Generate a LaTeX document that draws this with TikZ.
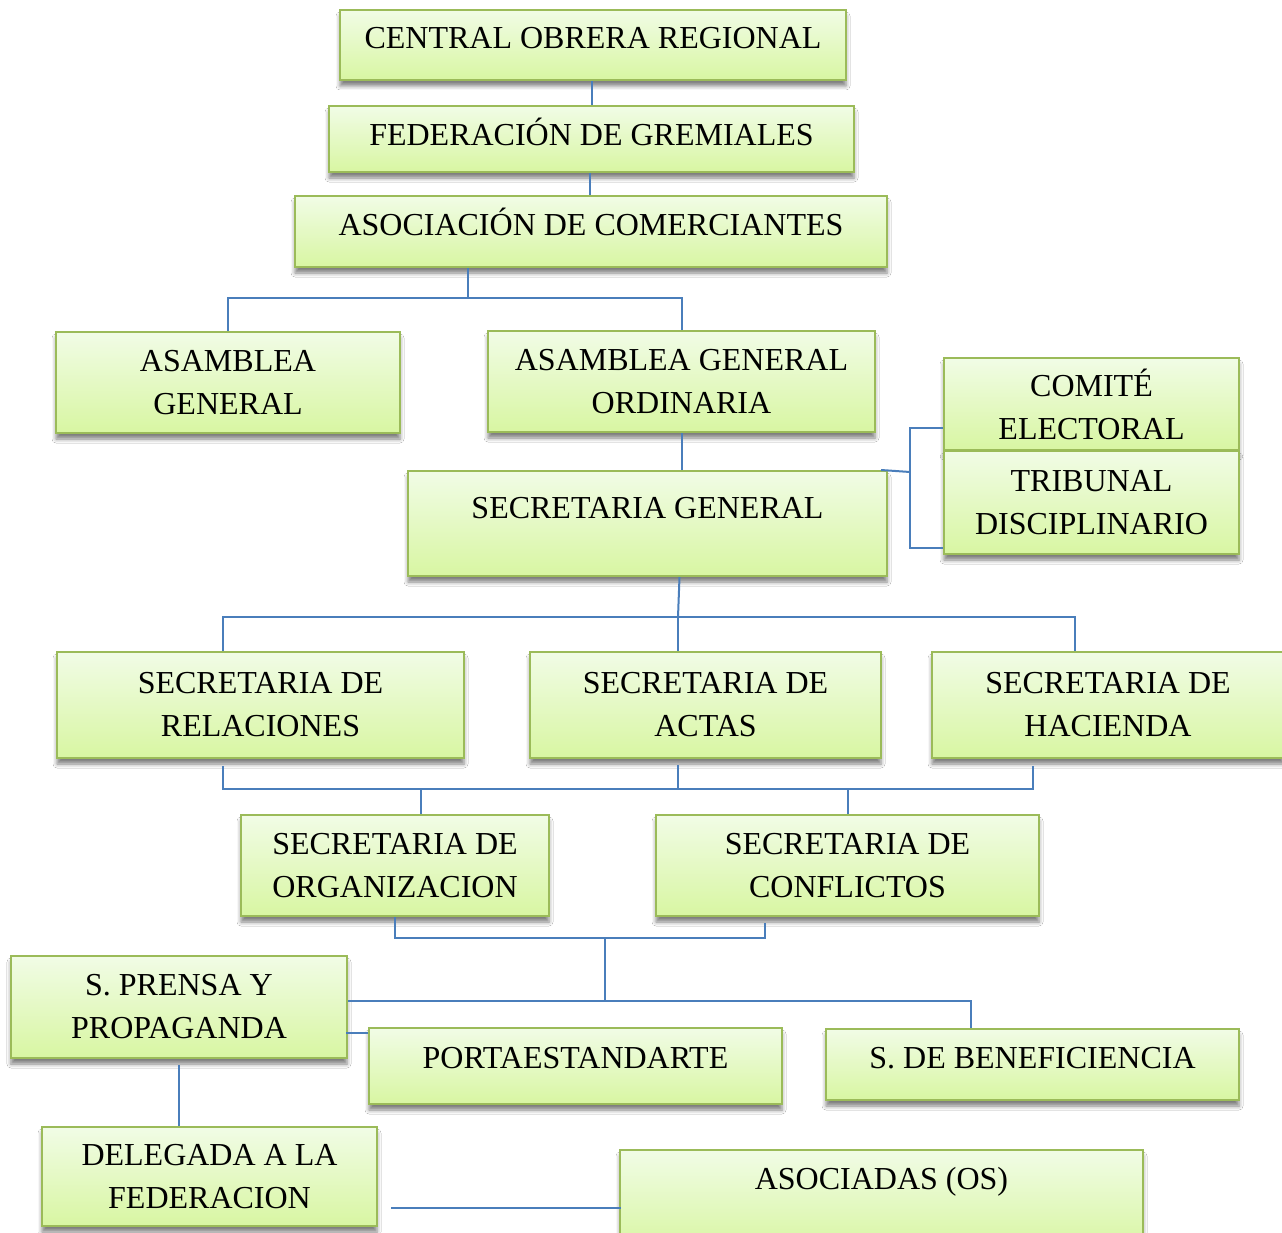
\documentclass[tikz,border=0pt]{standalone}
\usepackage{fontspec}
\setmainfont{Liberation Serif}
\usepackage{xcolor}
\usepackage{tikz}
\usetikzlibrary{positioning,shadows.blur}
\definecolor{boxline}{HTML}{9BBB59}
\definecolor{boxtop}{HTML}{F1FCE6}
\definecolor{boxbot}{HTML}{D8F6A2}
\definecolor{linkblue}{HTML}{4A7EBB}
\tikzset{
  orgbox/.style={draw=boxline, line width=2pt, top color=boxtop, bottom color=boxbot, align=center, inner sep=2pt,
    font=\fontsize{32}{43}\selectfont,
    blur shadow={shadow xshift=0pt, shadow yshift=-6pt, shadow blur radius=4pt, shadow opacity=50}},
  lift/.style={text height=22pt, text depth=#1},
  link/.style={draw=linkblue, line width=2pt}
}

\begin{document}
\begin{tikzpicture}[x=1pt, y=-1pt]
\useasboundingbox[fill=white] (0,0) rectangle (1282,1233);
% top of the chart
\node[orgbox, minimum width=506, minimum height=70, lift=15pt] (cor) at (593,45) {CENTRAL OBRERA REGIONAL};
\node[orgbox, minimum width=525, minimum height=66, lift=9pt] (fed) at (591.5,139) {FEDERACIÓN DE GREMIALES};
\node[orgbox, minimum width=592, minimum height=71, lift=14pt] (aso) at (591,231.5) {ASOCIACIÓN DE COMERCIANTES};
\node[orgbox, minimum width=344, minimum height=101] (ag) at (228,382.5) {ASAMBLEA\\GENERAL};
\node[orgbox, minimum width=387, minimum height=101] (ago) at (681.5,381.5) {ASAMBLEA GENERAL\\ORDINARIA};
\node[orgbox, minimum width=479, minimum height=105, lift=32pt] (sg) at (647.5,523.5) {SECRETARIA GENERAL};
\node[orgbox, minimum width=295, minimum height=92] (ce) at (1091.5,404) {COMITÉ\\ELECTORAL};
\node[orgbox, minimum width=295, minimum height=103] (td) at (1091.5,502.5) {TRIBUNAL\\DISCIPLINARIO};
% secretarias
\node[orgbox, minimum width=407, minimum height=106] (rel) at (260.5,705) {SECRETARIA DE\\RELACIONES};
\node[orgbox, minimum width=351, minimum height=106] (act) at (705.5,705) {SECRETARIA DE\\ACTAS};
\node[orgbox, minimum width=352, minimum height=106] (hac) at (1108,705) {SECRETARIA DE\\HACIENDA};
\node[orgbox, minimum width=308, minimum height=101] (org) at (395,865.5) {SECRETARIA DE\\ORGANIZACION};
\node[orgbox, minimum width=383, minimum height=101] (con) at (847.5,865.5) {SECRETARIA DE\\CONFLICTOS};
% lower boxes
\node[orgbox, minimum width=336, minimum height=102] (pre) at (179,1007) {S. PRENSA Y\\PROPAGANDA};
\node[orgbox, minimum width=413, minimum height=76, lift=17pt] (por) at (575.5,1066) {PORTAESTANDARTE};
\node[orgbox, minimum width=413, minimum height=71, lift=14pt] (ben) at (1032.5,1064.5) {S. DE BENEFICIENCIA};
\node[orgbox, minimum width=335, minimum height=99] (del) at (209.5,1176.5) {DELEGADA A LA\\FEDERACION};
\node[orgbox, minimum width=523, minimum height=100, lift=43pt] (asd) at (881.5,1200) {ASOCIADAS (OS)};
% connectors
\coordinate (busA) at (468,298);
\coordinate (busB) at (910,472);
\coordinate (busC) at (678,617);
\coordinate (busD) at (678,789);
\coordinate (busE) at (605,938);
\coordinate (busF) at (605,1001);
\draw[link] ([xshift=-1pt]cor.south) -- ([xshift=-1pt]cor.south |- fed.north);
\draw[link] ([xshift=-2pt]fed.south) -- ([xshift=-2pt]fed.south |- aso.north);
\draw[link] (busA |- aso.south) -- (busA);
\draw[link] (ag.north) |- (busA) -| (ago.north);
\draw[link] (ago.south) -- (ago.south |- sg.north);
\draw[link] ([xshift=-7pt]sg.north east) -- (busB);
\draw[link] ([yshift=23pt]ce.south west) -| (busB) |- ([yshift=7pt]td.south west);
\draw[link] ([xshift=32pt]sg.south) -- (busC);
\draw[link] ([xshift=-38pt]rel.north) |- (busC) -| ([xshift=-33pt]hac.north);
\draw[link] (busC) -- (busC |- act.north);
\draw[link] ([xshift=-38pt,yshift=-7pt]rel.south) |- (busD) -| ([xshift=-75pt,yshift=-7pt]hac.south);
\draw[link] (busD) -- ++(0,-24);
\draw[link] ([xshift=26pt]org.north) -- ++(0,-26);
\draw[link] (con.north) -- (con.north |- busD);
\draw[link] (org.south) |- (busE) -| ([xshift=-83pt,yshift=-6pt]con.south);
\draw[link] (busE) -- (busF);
\draw[link] (pre.east |- busF) -- (busF) -| ([xshift=-62pt]ben.north);
\draw[link] ([yshift=-6pt]por.north west) -- ++(-22,0);
\draw[link] (pre.south |- del.north) -- ++(0,-61);
\draw[link] ([xshift=13pt,yshift=-31pt]del.east) -- ++(230,0);
\end{tikzpicture}
\end{document}
